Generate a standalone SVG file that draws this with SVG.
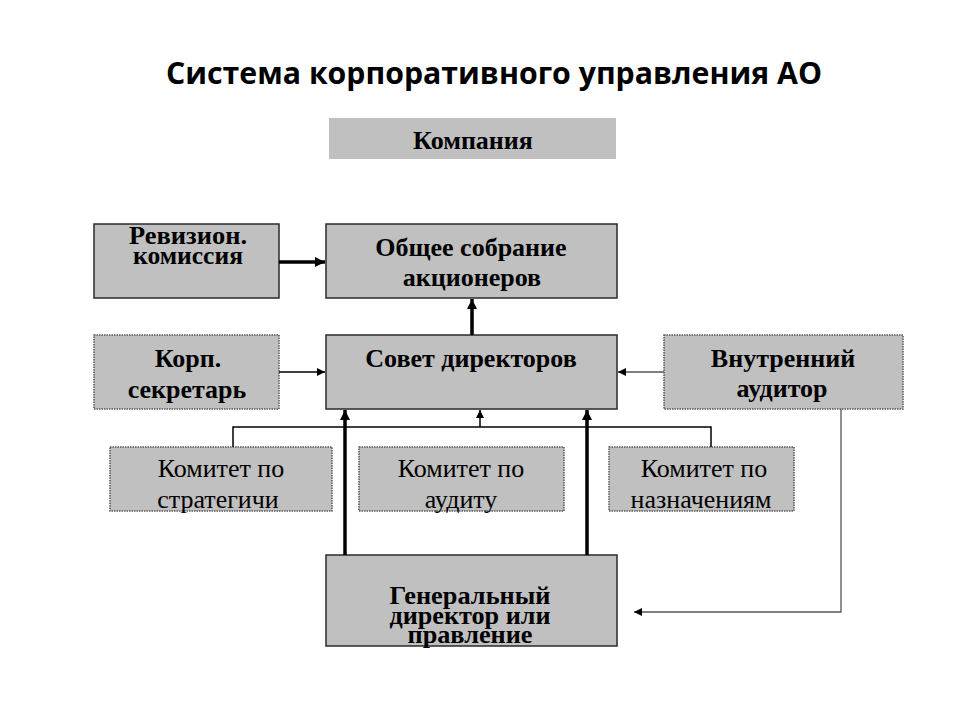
<svg xmlns="http://www.w3.org/2000/svg" width="960" height="720" viewBox="0 0 960 720">
<defs>
<marker id="ah" viewBox="0 0 10 10" refX="10" refY="5" markerWidth="10" markerHeight="10" markerUnits="userSpaceOnUse" orient="auto"><path d="M0,0 L10,5 L0,10 z" fill="#000"/></marker>
<marker id="ahs" viewBox="0 0 10 10" refX="10" refY="5" markerWidth="8" markerHeight="8" markerUnits="userSpaceOnUse" orient="auto"><path d="M0,0 L10,5 L0,10 z" fill="#000"/></marker>
<style>
.box{fill:#c0c0c0;stroke:#2a2a2a;stroke-width:1.5}
.dbox{fill:#c0c0c0;stroke:#555;stroke-width:1.5;stroke-dasharray:1.5 1}
.plain{fill:#c0c0c0}
.b{font-family:"Liberation Serif","Times New Roman",serif;font-weight:bold;font-size:26px;fill:#000;text-anchor:middle}
.r{font-family:"Liberation Serif","Times New Roman",serif;font-size:26px;fill:#000;text-anchor:middle}
.thick{stroke:#000;stroke-width:3.5;fill:none}
.thin{stroke:#000;stroke-width:1.5;fill:none}
.gray{stroke:#555;stroke-width:1.3;fill:none}
</style>
</defs>
<rect width="960" height="720" fill="#fff"/>
<text x="494" y="84" font-family="'Open Sans','Liberation Sans',sans-serif" font-weight="bold" font-size="31" text-anchor="middle" textLength="656" lengthAdjust="spacingAndGlyphs">Система корпоративного управления АО</text>

<g id="kompaniya"><rect class="plain" x="329" y="118" width="287" height="41"/><text class="b" x="473" y="149">Компания</text></g>

<g id="revizion"><rect class="box" x="94" y="224" width="185" height="74"/><text class="b" x="188" y="244" font-size="23" textLength="118" lengthAdjust="spacingAndGlyphs">Ревизион.</text><text class="b" x="188" y="264" font-size="23" textLength="110" lengthAdjust="spacingAndGlyphs">комиссия</text></g>

<g id="obshchee"><rect class="box" x="326" y="224" width="291" height="74"/><text class="b" x="471" y="256">Общее собрание</text><text class="b" x="472" y="286">акционеров</text></g>

<g id="korp"><rect class="dbox" x="94" y="335" width="185" height="74"/><text class="b" x="188" y="367">Корп.</text><text class="b" x="187" y="398">секретарь</text></g>

<g id="sovet"><rect class="box" x="326" y="335" width="291" height="74"/><text class="b" x="471" y="367">Совет директоров</text></g>

<g id="vnutrenniy"><rect class="dbox" x="664" y="335" width="239" height="74"/><text class="b" x="783" y="367">Внутренний</text><text class="b" x="782" y="397">аудитор</text></g>

<g id="kom-strat"><rect class="dbox" x="110" y="447" width="222" height="64"/><text class="r" x="221" y="477">Комитет по</text><text class="r" x="218" y="508">стратегичи</text></g>

<g id="kom-audit"><rect class="dbox" x="359" y="447" width="205" height="64"/><text class="r" x="461" y="477">Комитет по</text><text class="r" x="461" y="508">аудиту</text></g>

<g id="kom-naznach"><rect class="dbox" x="609" y="447" width="185" height="64"/><text class="r" x="704" y="477">Комитет по</text><text class="r" x="701" y="508">назначениям</text></g>

<g id="gendir"><rect class="box" x="326" y="555" width="291" height="91"/>
<text class="b" x="470" y="604" font-size="23" textLength="161" lengthAdjust="spacingAndGlyphs">Генеральный</text>
<text class="b" x="470" y="624" font-size="23" textLength="161" lengthAdjust="spacingAndGlyphs">директор или</text>
<text class="b" x="470" y="643" font-size="23" textLength="125" lengthAdjust="spacingAndGlyphs">правление</text></g>

<g id="connectors">
<line class="thick" x1="279" y1="262" x2="325" y2="262" marker-end="url(#ah)"/>
<line class="thick" x1="472" y1="335" x2="472" y2="299" marker-end="url(#ah)"/>
<line class="thin" x1="279" y1="372" x2="325" y2="372" marker-end="url(#ahs)"/>
<line class="gray" x1="664" y1="372" x2="618" y2="372" marker-end="url(#ahs)"/>
<polyline class="thin" points="233,447 233,427 711,427 711,447"/>
<line class="thin" x1="480" y1="427" x2="480" y2="410" marker-end="url(#ahs)"/>
<line class="thick" x1="345" y1="555" x2="345" y2="410" marker-end="url(#ah)"/>
<line class="thick" x1="587" y1="555" x2="587" y2="410" marker-end="url(#ah)"/>
<polyline class="gray" points="841,409 841,612 634,612" marker-end="url(#ahs)"/>
</g>
</svg>
